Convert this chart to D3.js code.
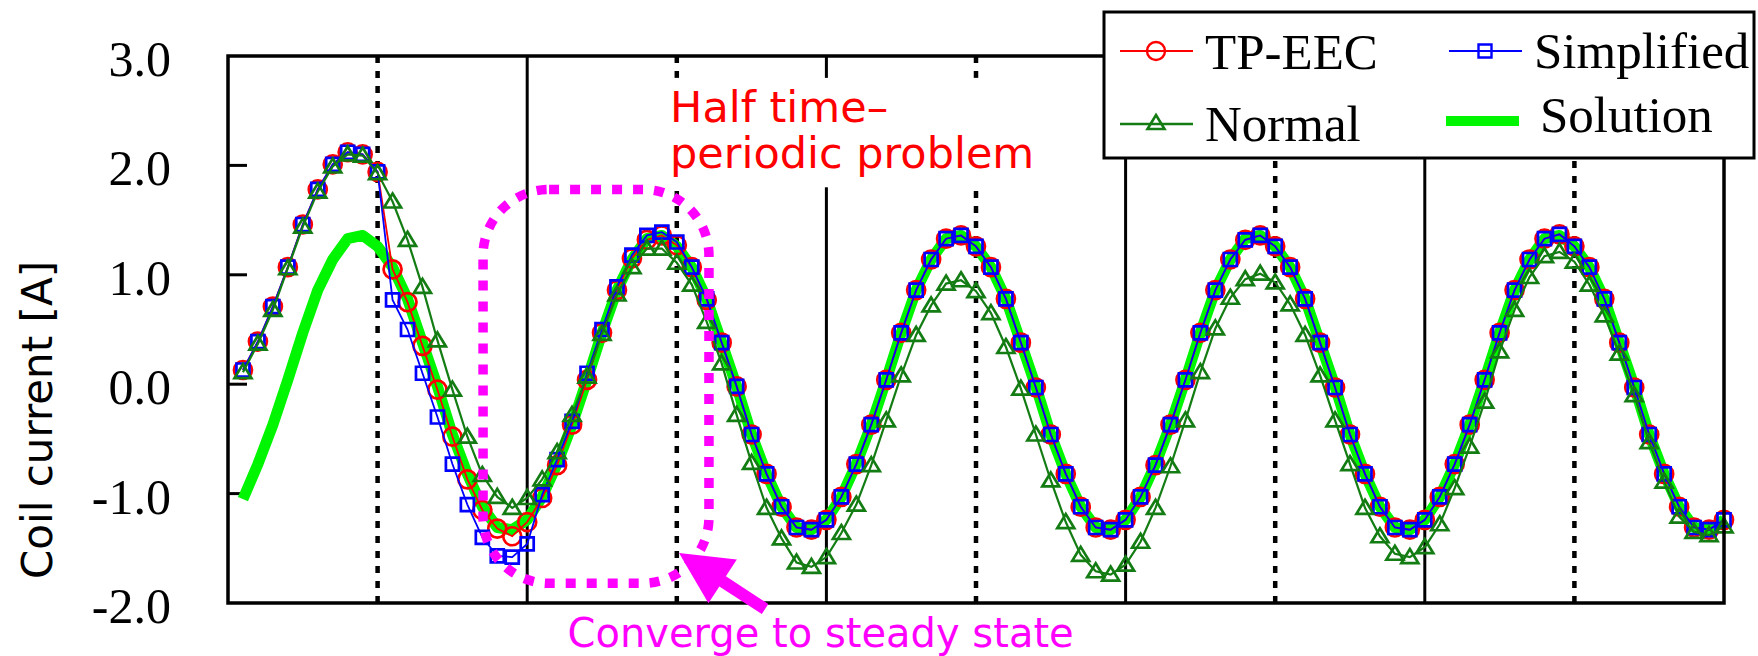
<!DOCTYPE html>
<html>
<head>
<meta charset="utf-8">
<script src="https://cdn.jsdelivr.net/npm/d3@7/dist/d3.min.js"></script>
<style>
  body { margin: 0; background: #fff; }
  svg { display: block; }
</style>
</head>
<body>
<div id="chart"></div>
<script>
// values: time step k = 1..100, 20 steps per period
const yTicks = [-2.0, -1.0, 0.0, 1.0, 2.0, 3.0];
const periodMarks = [10, 20, 30, 40, 50, 60, 70, 80, 90]; // multiples of 20 solid, others dotted
const seriesNames = ['TP-EEC', 'Simplified', 'Normal', 'Solution'];

const tpEec = [
  0.13, 0.39, 0.71, 1.07, 1.46, 1.78, 2.01, 2.12, 2.10, 1.94,
  1.05, 0.75, 0.35, -0.05, -0.48, -0.87, -1.15, -1.32, -1.39, -1.26,
  -1.04, -0.74, -0.37, 0.04, 0.47, 0.86, 1.15, 1.32, 1.36, 1.27,
  1.07, 0.77, 0.38, -0.02, -0.46, -0.82, -1.12, -1.31, -1.33, -1.24,
  -1.03, -0.73, -0.37, 0.04, 0.47, 0.86, 1.14, 1.33, 1.36, 1.26,
  1.07, 0.78, 0.38, -0.03, -0.46, -0.82, -1.12, -1.31, -1.33, -1.24,
  -1.03, -0.74, -0.37, 0.04, 0.47, 0.86, 1.14, 1.32, 1.36, 1.26,
  1.07, 0.78, 0.38, -0.03, -0.46, -0.82, -1.12, -1.31, -1.33, -1.24,
  -1.03, -0.73, -0.37, 0.04, 0.47, 0.86, 1.14, 1.33, 1.37, 1.26,
  1.07, 0.78, 0.38, -0.03, -0.46, -0.82, -1.12, -1.31, -1.33, -1.24
];

const simplified = [
  0.13, 0.39, 0.71, 1.07, 1.46, 1.78, 2.01, 2.12, 2.10, 1.94,
  0.77, 0.50, 0.10, -0.30, -0.73, -1.10, -1.40, -1.57, -1.58, -1.46,
  -1.01, -0.69, -0.34, 0.10, 0.50, 0.89, 1.18, 1.36, 1.39, 1.30,
  1.07, 0.78, 0.38, -0.02, -0.46, -0.82, -1.12, -1.31, -1.33, -1.24,
  -1.03, -0.73, -0.37, 0.04, 0.47, 0.86, 1.14, 1.33, 1.36, 1.26,
  1.07, 0.78, 0.38, -0.03, -0.46, -0.82, -1.12, -1.31, -1.33, -1.24,
  -1.03, -0.74, -0.37, 0.04, 0.47, 0.86, 1.14, 1.32, 1.36, 1.26,
  1.07, 0.78, 0.38, -0.03, -0.46, -0.82, -1.12, -1.31, -1.33, -1.24,
  -1.03, -0.73, -0.37, 0.04, 0.47, 0.86, 1.14, 1.33, 1.37, 1.26,
  1.07, 0.78, 0.38, -0.03, -0.46, -0.82, -1.12, -1.31, -1.33, -1.24
];

const normal = [
  0.11, 0.37, 0.68, 1.06, 1.44, 1.76, 1.99, 2.10, 2.09, 1.93,
  1.67, 1.32, 0.89, 0.40, -0.05, -0.48, -0.83, -1.03, -1.13, -1.04,
  -0.87, -0.62, -0.28, 0.07, 0.46, 0.82, 1.07, 1.24, 1.24, 1.11,
  0.91, 0.57, 0.19, -0.28, -0.72, -1.13, -1.41, -1.63, -1.67, -1.58,
  -1.36, -1.10, -0.74, -0.33, 0.08, 0.45, 0.72, 0.92, 0.95, 0.85,
  0.65, 0.34, -0.04, -0.46, -0.88, -1.26, -1.56, -1.71, -1.74, -1.65,
  -1.44, -1.13, -0.75, -0.33, 0.11, 0.51, 0.79, 0.96, 1.01, 0.93,
  0.73, 0.45, 0.08, -0.33, -0.73, -1.13, -1.39, -1.55, -1.58, -1.49,
  -1.28, -0.95, -0.57, -0.16, 0.30, 0.68, 0.98, 1.17, 1.21, 1.12,
  0.91, 0.63, 0.28, -0.10, -0.53, -0.89, -1.21, -1.35, -1.38, -1.30
];

const solution = [
  -1.05, -0.73, -0.37, 0.04, 0.47, 0.86, 1.14, 1.33, 1.36, 1.26,
  1.07, 0.78, 0.38, -0.02, -0.46, -0.82, -1.12, -1.31, -1.33, -1.24,
  -1.03, -0.73, -0.37, 0.04, 0.47, 0.86, 1.14, 1.33, 1.36, 1.26,
  1.07, 0.78, 0.38, -0.02, -0.46, -0.82, -1.12, -1.31, -1.33, -1.24,
  -1.03, -0.73, -0.37, 0.04, 0.47, 0.86, 1.14, 1.33, 1.36, 1.26,
  1.07, 0.78, 0.38, -0.02, -0.46, -0.82, -1.12, -1.31, -1.33, -1.24,
  -1.03, -0.73, -0.37, 0.04, 0.47, 0.86, 1.14, 1.33, 1.36, 1.26,
  1.07, 0.78, 0.38, -0.02, -0.46, -0.82, -1.12, -1.31, -1.33, -1.24,
  -1.03, -0.73, -0.37, 0.04, 0.47, 0.86, 1.14, 1.33, 1.36, 1.26,
  1.07, 0.78, 0.38, -0.02, -0.46, -0.82, -1.12, -1.31, -1.33, -1.24
];

const W = 1758, H = 656;
const RED = '#ff0000', BLUE = '#0000ff', DKGREEN = '#137c13', LIME = '#00f500', MAGENTA = '#ff00ff';

const x = d3.scaleLinear().domain([0, 100]).range([228, 1724]);
const y = d3.scaleLinear().domain([-2, 3]).range([603, 56]);

const svg = d3.select('#chart').append('svg')
  .attr('width', W).attr('height', H)
  .attr('viewBox', `0 0 ${W} ${H}`);

const toPoints = arr => arr.map((v, i) => [i + 1, v]);
const line = d3.line().x(d => x(d[0])).y(d => y(d[1]));

// half-period separators
svg.append('g').selectAll('line')
  .data(periodMarks)
  .join('line')
  .attr('x1', d => x(d)).attr('x2', d => x(d))
  .attr('y1', y(3)).attr('y2', y(-2))
  .attr('stroke', '#000')
  .attr('stroke-width', d => d % 20 === 0 ? 3 : 4.5)
  .attr('stroke-dasharray', d => d % 20 === 0 ? null : '7,8');

// y ticks (inside) and labels
svg.append('g').selectAll('line')
  .data(yTicks.filter(t => t > -2 && t < 3))
  .join('line')
  .attr('x1', x(0)).attr('x2', x(0) + 19)
  .attr('y1', d => y(d)).attr('y2', d => y(d))
  .attr('stroke', '#000').attr('stroke-width', 3);

svg.append('g').selectAll('text')
  .data(yTicks)
  .join('text')
  .attr('x', 171).attr('y', d => y(d) + 20)
  .attr('text-anchor', 'end')
  .style('font-family', '"Liberation Serif", "Times New Roman", serif')
  .style('font-size', '50px')
  .text(d => d.toFixed(1));

svg.append('text')
  .attr('transform', 'translate(52,420) rotate(-90)')
  .attr('text-anchor', 'middle')
  .style('font-family', '"DejaVu Sans", sans-serif')
  .style('font-size', '42px')
  .text('Coil current [A]');

// series
svg.append('path')
  .attr('d', line(toPoints(solution)))
  .attr('fill', 'none').attr('stroke', LIME)
  .attr('stroke-width', 11).attr('stroke-linejoin', 'round');

const triPath = 'M0,-8L8.5,6L-8.5,6Z';

function drawSeries(arr, color, width, shape) {
  const pts = toPoints(arr);
  const g = svg.append('g');
  g.append('path')
    .attr('d', line(pts))
    .attr('fill', 'none').attr('stroke', color).attr('stroke-width', width);
  const m = g.selectAll('.m').data(pts).join(shape === 'circle' ? 'circle' : 'path')
    .attr('class', 'm')
    .attr('fill', 'none').attr('stroke', color).attr('stroke-width', 2.7);
  if (shape === 'circle') {
    m.attr('cx', d => x(d[0])).attr('cy', d => y(d[1])).attr('r', 9);
  } else if (shape === 'square') {
    m.attr('d', 'M-6.5,-6.5H6.5V6.5H-6.5Z')
      .attr('transform', d => `translate(${x(d[0])},${y(d[1])})`);
  } else {
    m.attr('d', triPath)
      .attr('transform', d => `translate(${x(d[0])},${y(d[1])})`);
  }
}

drawSeries(tpEec, RED, 1.8, 'circle');
drawSeries(simplified, BLUE, 1.8, 'square');
drawSeries(normal, DKGREEN, 2.2, 'triangle');

// plot frame
svg.append('rect')
  .attr('x', x(0)).attr('y', y(3))
  .attr('width', x(100) - x(0)).attr('height', y(-2) - y(3))
  .attr('fill', 'none').attr('stroke', '#000').attr('stroke-width', 3.5);

// annotation: half time-periodic problem
svg.append('rect')
  .attr('x', x(29.2)).attr('y', y(2.8))
  .attr('width', x(54.4) - x(29.2)).attr('height', y(1.8) - y(2.8))
  .attr('fill', '#fff');

const ann = svg.append('text')
  .style('font-family', '"DejaVu Sans", sans-serif')
  .style('font-size', '43px')
  .attr('fill', RED);
ann.append('tspan').attr('x', x(29.55)).attr('y', y(2.40)).text('Half time–');
ann.append('tspan').attr('x', x(29.55)).attr('y', y(1.976)).text('periodic problem');

// dotted rounded box
svg.append('rect')
  .attr('x', x(17.05)).attr('y', y(1.78))
  .attr('width', x(32.15) - x(17.05)).attr('height', y(-1.82) - y(1.78))
  .attr('rx', 66).attr('ry', 66)
  .attr('fill', 'none').attr('stroke', MAGENTA)
  .attr('stroke-width', 9.5).attr('stroke-dasharray', '10,11');

// arrow
const tip = [x(30.15), y(-1.543)], tail = [x(35.9), y(-2.055)];
const dx = tail[0] - tip[0], dy = tail[1] - tip[1];
const len = Math.hypot(dx, dy), ux = dx / len, uy = dy / len;
const px = -uy, py = ux;
const headLen = 52, headHalf = 26, shaftHalf = 6;
const bx = tip[0] + ux * headLen, by = tip[1] + uy * headLen;
const arrowPts = [
  tip,
  [bx + px * headHalf, by + py * headHalf],
  [bx + px * shaftHalf, by + py * shaftHalf],
  [tail[0] + px * shaftHalf, tail[1] + py * shaftHalf],
  [tail[0] - px * shaftHalf, tail[1] - py * shaftHalf],
  [bx - px * shaftHalf, by - py * shaftHalf],
  [bx - px * headHalf, by - py * headHalf]
];
svg.append('path')
  .attr('d', 'M' + arrowPts.map(p => p.join(',')).join('L') + 'Z')
  .attr('fill', MAGENTA);

svg.append('text')
  .attr('x', x(22.7)).attr('y', y(-2.40))
  .style('font-family', '"DejaVu Sans", sans-serif')
  .style('font-size', '40px')
  .attr('fill', MAGENTA)
  .text('Converge to steady state');

// legend
const lg = svg.append('g');
lg.append('rect')
  .attr('x', 1104).attr('y', 12).attr('width', 650).attr('height', 146)
  .attr('fill', '#fff').attr('stroke', '#000').attr('stroke-width', 3);

const legendItems = [
  { name: seriesNames[0], color: RED, shape: 'circle', lx: 1120, ly: 51, tx: 1205, ty: 69 },
  { name: seriesNames[1], color: BLUE, shape: 'square', lx: 1449, ly: 51, tx: 1534, ty: 68 },
  { name: seriesNames[2], color: DKGREEN, shape: 'triangle', lx: 1120, ly: 124, tx: 1205, ty: 141 },
  { name: seriesNames[3], color: LIME, shape: 'none', lx: 1446, ly: 121, tx: 1540, ty: 132 }
];

legendItems.forEach(it => {
  const g = lg.append('g');
  g.append('line')
    .attr('x1', it.lx).attr('x2', it.lx + 73)
    .attr('y1', it.ly).attr('y2', it.ly)
    .attr('stroke', it.color)
    .attr('stroke-width', it.shape === 'none' ? 10 : (it.shape === 'triangle' ? 2.5 : 2.2));
  const cx = it.lx + 36, cy = it.ly;
  if (it.shape === 'circle') {
    g.append('circle').attr('cx', cx).attr('cy', cy).attr('r', 9)
      .attr('fill', 'none').attr('stroke', it.color).attr('stroke-width', 2.4);
  } else if (it.shape === 'square') {
    g.append('path').attr('d', 'M-6.5,-6.5H6.5V6.5H-6.5Z')
      .attr('transform', `translate(${cx},${cy})`)
      .attr('fill', 'none').attr('stroke', it.color).attr('stroke-width', 2.4);
  } else if (it.shape === 'triangle') {
    g.append('path').attr('d', triPath)
      .attr('transform', `translate(${cx},${cy - 1})`)
      .attr('fill', 'none').attr('stroke', it.color).attr('stroke-width', 2.6);
  }
  g.append('text')
    .attr('x', it.tx).attr('y', it.ty)
    .style('font-family', '"Liberation Serif", "Times New Roman", serif')
    .style('font-size', '51px')
    .text(it.name);
});
</script>
</body>
</html>
